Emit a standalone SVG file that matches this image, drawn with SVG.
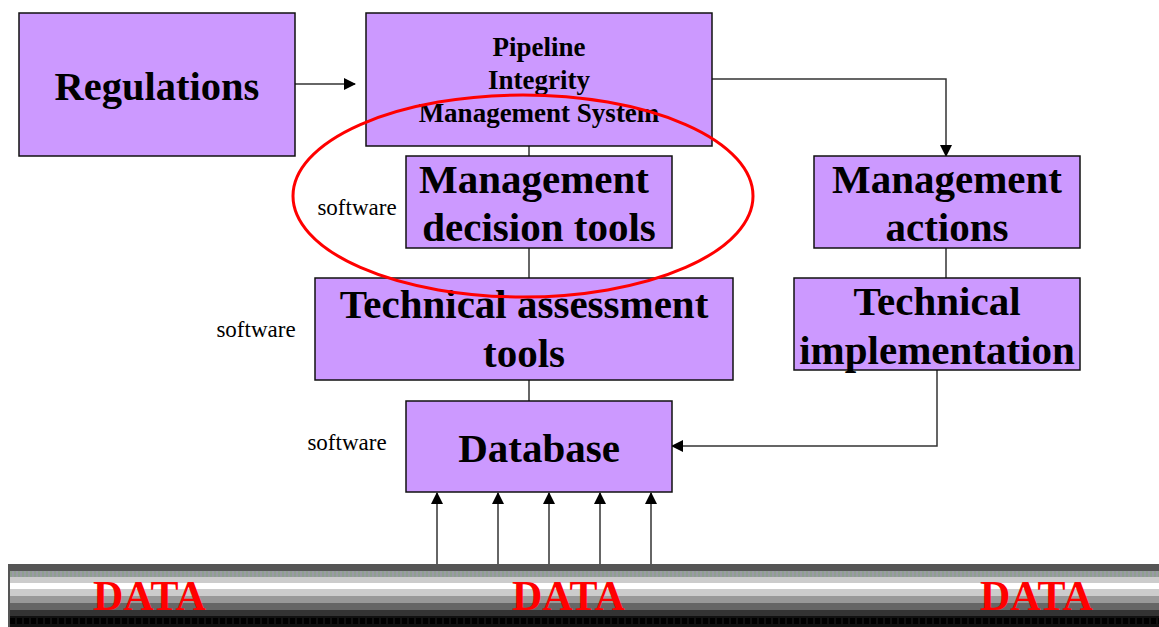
<svg xmlns="http://www.w3.org/2000/svg" width="1159" height="627" viewBox="0 0 1159 627">
<style>
.box{fill:#cc99ff;stroke:#111;stroke-width:1.5}
.t{font-family:"Liberation Serif","Times New Roman",serif;font-weight:bold;fill:#000;text-anchor:middle}
.sw{font-family:"Liberation Serif","Times New Roman",serif;font-size:23px;fill:#000;text-anchor:middle}
.c{stroke:#333;stroke-width:1.5;fill:none}
.data{font-family:"Liberation Serif","Times New Roman",serif;font-weight:bold;font-size:42px;fill:#ff0000}
</style>
<defs>
<marker id="ah" markerWidth="12" markerHeight="12" refX="11" refY="6" orient="auto" markerUnits="userSpaceOnUse">
<path d="M0,0 L12,6 L0,12 Z" fill="#000"/>
</marker>
</defs>
<rect width="1159" height="627" fill="#fff"/>
<g id="data-bar">
<rect x="8" y="564" width="1151" height="63" fill="#555"/>
<rect x="10" y="571" width="1149" height="6" fill="#9a9aa6"/>
<line x1="10" y1="574" x2="1159" y2="574" stroke="#8fa08f" stroke-width="6" stroke-dasharray="2 2"/>
<rect x="10" y="577" width="1149" height="6" fill="#cccccc"/>
<rect x="10" y="583" width="1149" height="6" fill="#ffffff"/>
<rect x="10" y="589" width="1149" height="7" fill="#cccccc"/>
<rect x="10" y="596" width="1149" height="7" fill="#999999"/>
<rect x="10" y="603" width="1149" height="7" fill="#666666"/>
<rect x="10" y="610" width="1149" height="6" fill="#333333"/>
<rect x="10" y="616" width="1149" height="11" fill="#111111"/>
<line x1="10" y1="621" x2="1159" y2="621" stroke="#000" stroke-width="6" stroke-dasharray="5 2"/>
<text class="data" x="93" y="610">DATA</text>
<text class="data" x="512" y="610">DATA</text>
<text class="data" x="980" y="610">DATA</text>
</g>
<g id="connectors">
<line class="c" x1="295" y1="84" x2="355" y2="84" marker-end="url(#ah)"/>
<polyline class="c" points="712,79 946,79 946,156" marker-end="url(#ah)"/>
<line class="c" x1="529" y1="146" x2="529" y2="156"/>
<line class="c" x1="529" y1="248" x2="529" y2="278"/>
<line class="c" x1="529" y1="380" x2="529" y2="401"/>
<line class="c" x1="946" y1="248" x2="946" y2="278"/>
<polyline class="c" points="937,370 937,446 672,446" marker-end="url(#ah)"/>
<line class="c" x1="437" y1="564" x2="437" y2="493" marker-end="url(#ah)"/>
<line class="c" x1="498" y1="564" x2="498" y2="493" marker-end="url(#ah)"/>
<line class="c" x1="549" y1="564" x2="549" y2="493" marker-end="url(#ah)"/>
<line class="c" x1="600" y1="564" x2="600" y2="493" marker-end="url(#ah)"/>
<line class="c" x1="651" y1="564" x2="651" y2="493" marker-end="url(#ah)"/>
</g>
<g id="regulations">
<rect class="box" x="19" y="13" width="276" height="143"/>
<text class="t" x="157" y="100" font-size="40.5">Regulations</text>
</g>
<g id="pims">
<rect class="box" x="366" y="13" width="346" height="133"/>
<text class="t" x="539" y="56" font-size="27">Pipeline</text>
<text class="t" x="539" y="89" font-size="27">Integrity</text>
<text class="t" x="539" y="122" font-size="27">Management System</text>
</g>
<g id="mgmt-decision-tools">
<rect class="box" x="406" y="156" width="266" height="92"/>
<text class="t" x="534" y="193" font-size="41">Management</text>
<text class="t" x="539" y="241" font-size="41">decision tools</text>
</g>
<g id="tech-assessment-tools">
<rect class="box" x="315" y="278" width="418" height="102"/>
<text class="t" x="524" y="318" font-size="41">Technical assessment</text>
<text class="t" x="524" y="367" font-size="41">tools</text>
</g>
<g id="database">
<rect class="box" x="406" y="401" width="266" height="91"/>
<text class="t" x="539" y="462" font-size="41">Database</text>
</g>
<g id="mgmt-actions">
<rect class="box" x="814" y="156" width="266" height="92"/>
<text class="t" x="947" y="193" font-size="41">Management</text>
<text class="t" x="947" y="241" font-size="41">actions</text>
</g>
<g id="tech-implementation">
<rect class="box" x="794" y="278" width="286" height="92"/>
<text class="t" x="937" y="315" font-size="41">Technical</text>
<text class="t" x="937" y="364" font-size="41">implementation</text>
</g>
<g id="labels">
<text class="sw" x="357" y="215">software</text>
<text class="sw" x="256" y="337">software</text>
<text class="sw" x="347" y="450">software</text>
</g>
<ellipse cx="523" cy="196" rx="230" ry="101" fill="none" stroke="#ff0000" stroke-width="3"/>
</svg>
